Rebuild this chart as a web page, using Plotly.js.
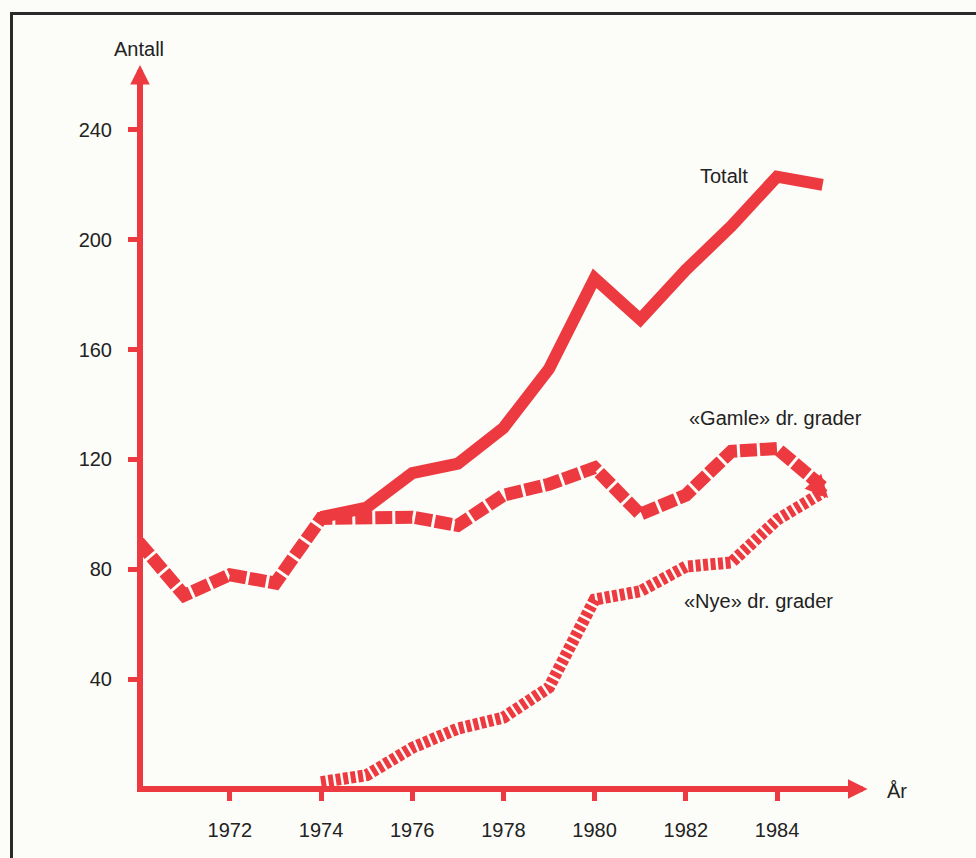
<!DOCTYPE html>
<html>
<head>
<meta charset="utf-8">
<script src="https://cdn.plot.ly/plotly-3.0.1.min.js"></script>
<style>
  html, body { margin: 0; padding: 0; background: #fcfcf8; }
  #wrap { position: relative; width: 976px; height: 858px; overflow: hidden; }
  #chart { position: absolute; left: 0; top: 0; width: 976px; height: 858px; }
  #frame { position: absolute; left: 10px; top: 12px; width: 980px; height: 860px;
           border-top: 3px solid #2a2a2a; border-left: 3px solid #2a2a2a; pointer-events: none; }
</style>
</head>
<body>
<div id="wrap">
  <div id="chart"></div>
  <div id="frame"></div>
</div>
<script>
// Data
const years = [1970, 1971, 1972, 1973, 1974, 1975, 1976, 1977, 1978, 1979, 1980, 1981, 1982, 1983, 1984, 1985];
const gamle = [90, 70.5, 78, 75, 98.5, 98.5, 99, 96, 107, 111, 117, 100, 107, 123, 124, 110];
const totalYears = [1974, 1975, 1976, 1977, 1978, 1979, 1980, 1981, 1982, 1983, 1984, 1985];
const totalt = [99, 102.5, 115, 118.5, 131.5, 153, 186, 171, 189, 205, 223, 220];
const nyeYears = [1974, 1975, 1976, 1977, 1978, 1979, 1980, 1981, 1982, 1983, 1984, 1985];
const nye = [2.5, 5, 15, 22, 26, 37, 69, 72, 81, 82.5, 98, 108];
const xTicks = [1972, 1974, 1976, 1978, 1980, 1982, 1984];
const yTicks = [40, 80, 120, 160, 200, 240];

const RED = '#ec3a40';
const TXT = '#222222';
const FONT = 'Liberation Sans, Arial, sans-serif';

const traces = [
  { x: nyeYears, y: nye, mode: 'lines', name: '«Nye» dr. grader',
    line: { color: RED, width: 12, dash: '5px,2.5px' } },
  { x: years, y: gamle, mode: 'lines', name: '«Gamle» dr. grader',
    line: { color: RED, width: 13, dash: '17px,3px' } },
  { x: totalYears, y: totalt, mode: 'lines', name: 'Totalt',
    line: { color: RED, width: 12 } }
];

const layout = {
  width: 976, height: 858,
  margin: { l: 143, r: 116, t: 80, b: 72 },
  paper_bgcolor: '#fcfcf8',
  plot_bgcolor: 'rgba(0,0,0,0)',
  showlegend: false,
  font: { family: FONT, color: TXT, size: 20 },
  xaxis: {
    range: [1970.096, 1985.82],
    tickvals: xTicks, ticktext: xTicks.map(String),
    showgrid: false, zeroline: false,
    showline: true, linecolor: RED, linewidth: 6,
    ticks: 'outside', ticklen: 9, tickwidth: 5, tickcolor: RED,
    tickfont: { family: FONT, size: 20, color: TXT },
    ticklabelstandoff: 12
  },
  yaxis: {
    range: [1.09, 258.2],
    tickvals: yTicks, ticktext: yTicks.map(String),
    showgrid: false, zeroline: false,
    showline: true, linecolor: RED, linewidth: 6,
    ticks: 'outside', ticklen: 9, tickwidth: 5, tickcolor: RED,
    tickfont: { family: FONT, size: 20, color: TXT },
    ticklabelstandoff: 12
  },
  annotations: [
    { xref: 'x', yref: 'y', x: 1982.27, y: 223.2, text: 'Totalt', showarrow: false,
      xanchor: 'left', yanchor: 'middle', font: { family: FONT, size: 20, color: TXT } },
    { xref: 'x', yref: 'y', x: 1982.03, y: 135.1, text: '«Gamle» dr. grader', showarrow: false,
      xanchor: 'left', yanchor: 'middle', font: { family: FONT, size: 20, color: TXT } },
    { xref: 'x', yref: 'y', x: 1981.92, y: 68.5, text: '«Nye» dr. grader', showarrow: false,
      xanchor: 'left', yanchor: 'middle', font: { family: FONT, size: 20, color: TXT } },
    { xref: 'paper', yref: 'paper', x: 1.0349, y: -0.0071, text: 'År', showarrow: false,
      xanchor: 'left', yanchor: 'middle', font: { family: FONT, size: 20, color: TXT } },
    { xref: 'paper', yref: 'paper', x: -0.0056, y: 1.0439, text: 'Antall', showarrow: false,
      xanchor: 'center', yanchor: 'middle', font: { family: FONT, size: 20, color: TXT } },
    // axis arrowheads
    { xref: 'paper', yref: 'paper', x: 1.0105, y: -0.0042, ax: -16, ay: 0, text: '',
      showarrow: true, arrowhead: 2, arrowsize: 0.65, arrowwidth: 6, arrowcolor: RED },
    { xref: 'paper', yref: 'paper', x: -0.0042, y: 1.0212, ax: 0, ay: 18, text: '',
      showarrow: true, arrowhead: 2, arrowsize: 0.65, arrowwidth: 6, arrowcolor: RED },
    // arrowhead at end of «Gamle» line
    { xref: 'x', yref: 'y', x: 1985.12, y: 106, ax: -10, ay: -11, text: '',
      showarrow: true, arrowhead: 2, arrowsize: 0.5, arrowwidth: 9, arrowcolor: RED }
  ]
};

Plotly.newPlot('chart', traces, layout, { displayModeBar: false, staticPlot: true });
</script>
</body>
</html>
